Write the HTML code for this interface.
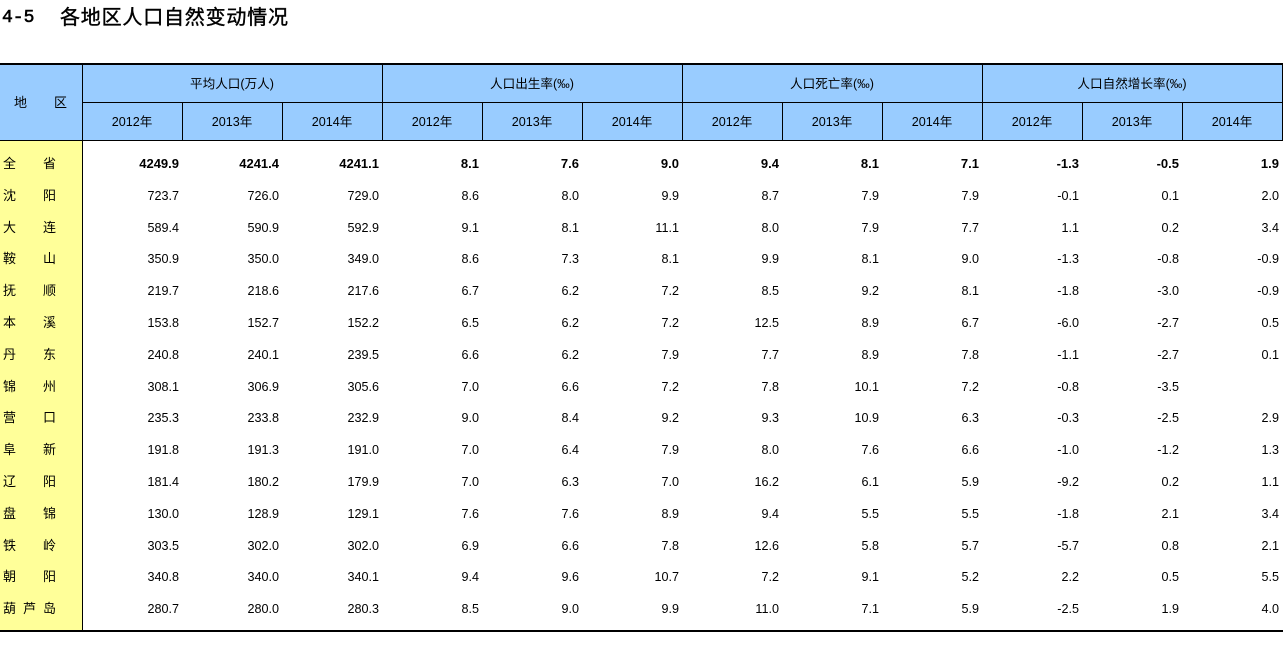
<!DOCTYPE html>
<html>
<head>
<meta charset="utf-8">
<style>
  html, body { margin:0; padding:0; }
  body { width:1283px; height:665px; background:#ffffff; position:relative; overflow:hidden;
         font-family:"Liberation Sans","Noto Sans CJK SC",sans-serif; color:#000; }
  .abs { position:absolute; }
  .title { position:absolute; left:0; top:0; height:36px; line-height:36px; width:600px; }
  .title .num { position:absolute; left:2px; font-family:"Liberation Mono",monospace; font-size:18px; -webkit-text-stroke:0.6px #000; }
  .title .cjk { position:absolute; left:60px; font-family:"Liberation Sans","Noto Sans CJK SC",sans-serif; font-size:20px; letter-spacing:0.8px; -webkit-text-stroke:0.4px #000; }
  .hline { position:absolute; background:#000; }
  .vline { position:absolute; background:#000; width:1px; }
  .h1 { position:absolute; top:74px; height:20px; line-height:20px; font-size:12.6px; text-align:center; width:300px; }
  .h2 { position:absolute; top:112px; left:82px; height:20px; line-height:20px; font-size:12.6px; display:flex; }
  .h2 span { width:100px; text-align:center; display:block; }
  .r { position:absolute; left:0; width:1283px; height:20px; line-height:20px; }
  .r .c { position:absolute; font-size:13px; }
  .r .v { position:absolute; left:82px; top:0; display:flex; font-size:12.6px; }
  .r .v span { width:100px; box-sizing:border-box; padding-right:3px; text-align:right; display:block; }
  .r.b .v { font-weight:bold; font-size:13px; }
</style>
</head>
<body>

<div class="title"><span class="num">4-5</span><span class="cjk">各地区人口自然变动情况</span></div>

<!-- backgrounds -->
<div class="abs" style="left:0;top:65px;width:1282px;height:75px;background:#99ccff;"></div>
<div class="abs" style="left:0;top:141px;width:82px;height:489px;background:#ffff99;"></div>

<!-- horizontal lines -->
<div class="hline" style="left:0;top:63px;width:1283px;height:2px;"></div>
<div class="hline" style="left:82px;top:102px;width:1201px;height:1px;"></div>
<div class="hline" style="left:0;top:140px;width:1283px;height:1px;"></div>
<div class="hline" style="left:0;top:630px;width:1283px;height:2px;"></div>

<!-- vertical lines -->
<div class="vline" style="left:82px;top:65px;height:565px;"></div>
<div class="vline" style="left:382px;top:65px;height:75px;"></div>
<div class="vline" style="left:682px;top:65px;height:75px;"></div>
<div class="vline" style="left:982px;top:65px;height:75px;"></div>
<div class="vline" style="left:1282px;top:65px;height:75px;"></div>
<div class="vline" style="left:182px;top:103px;height:37px;"></div>
<div class="vline" style="left:282px;top:103px;height:37px;"></div>
<div class="vline" style="left:482px;top:103px;height:37px;"></div>
<div class="vline" style="left:582px;top:103px;height:37px;"></div>
<div class="vline" style="left:782px;top:103px;height:37px;"></div>
<div class="vline" style="left:882px;top:103px;height:37px;"></div>
<div class="vline" style="left:1082px;top:103px;height:37px;"></div>
<div class="vline" style="left:1182px;top:103px;height:37px;"></div>

<!-- header text -->
<div class="abs" style="left:14px;top:93px;height:20px;line-height:20px;font-size:13px;">地</div>
<div class="abs" style="left:54px;top:93px;height:20px;line-height:20px;font-size:13px;">区</div>

<div class="h1" style="left:82px;">平均人口(万人)</div>
<div class="h1" style="left:382px;">人口出生率(‰)</div>
<div class="h1" style="left:682px;">人口死亡率(‰)</div>
<div class="h1" style="left:982px;">人口自然增长率(‰)</div>

<div class="h2">
  <span>2012年</span><span>2013年</span><span>2014年</span>
  <span>2012年</span><span>2013年</span><span>2014年</span>
  <span>2012年</span><span>2013年</span><span>2014年</span>
  <span>2012年</span><span>2013年</span><span>2014年</span>
</div>

<!-- data rows -->
<div class="r b" style="top:154px;"><span class="c" style="left:3px;">全</span><span class="c" style="left:43px;">省</span>
<div class="v"><span>4249.9</span><span>4241.4</span><span>4241.1</span><span>8.1</span><span>7.6</span><span>9.0</span><span>9.4</span><span>8.1</span><span>7.1</span><span>-1.3</span><span>-0.5</span><span>1.9</span></div></div>

<div class="r" style="top:186px;"><span class="c" style="left:3px;">沈</span><span class="c" style="left:43px;">阳</span>
<div class="v"><span>723.7</span><span>726.0</span><span>729.0</span><span>8.6</span><span>8.0</span><span>9.9</span><span>8.7</span><span>7.9</span><span>7.9</span><span>-0.1</span><span>0.1</span><span>2.0</span></div></div>

<div class="r" style="top:218px;"><span class="c" style="left:3px;">大</span><span class="c" style="left:43px;">连</span>
<div class="v"><span>589.4</span><span>590.9</span><span>592.9</span><span>9.1</span><span>8.1</span><span>11.1</span><span>8.0</span><span>7.9</span><span>7.7</span><span>1.1</span><span>0.2</span><span>3.4</span></div></div>

<div class="r" style="top:249px;"><span class="c" style="left:3px;">鞍</span><span class="c" style="left:43px;">山</span>
<div class="v"><span>350.9</span><span>350.0</span><span>349.0</span><span>8.6</span><span>7.3</span><span>8.1</span><span>9.9</span><span>8.1</span><span>9.0</span><span>-1.3</span><span>-0.8</span><span>-0.9</span></div></div>

<div class="r" style="top:281px;"><span class="c" style="left:3px;">抚</span><span class="c" style="left:43px;">顺</span>
<div class="v"><span>219.7</span><span>218.6</span><span>217.6</span><span>6.7</span><span>6.2</span><span>7.2</span><span>8.5</span><span>9.2</span><span>8.1</span><span>-1.8</span><span>-3.0</span><span>-0.9</span></div></div>

<div class="r" style="top:313px;"><span class="c" style="left:3px;">本</span><span class="c" style="left:43px;">溪</span>
<div class="v"><span>153.8</span><span>152.7</span><span>152.2</span><span>6.5</span><span>6.2</span><span>7.2</span><span>12.5</span><span>8.9</span><span>6.7</span><span>-6.0</span><span>-2.7</span><span>0.5</span></div></div>

<div class="r" style="top:345px;"><span class="c" style="left:3px;">丹</span><span class="c" style="left:43px;">东</span>
<div class="v"><span>240.8</span><span>240.1</span><span>239.5</span><span>6.6</span><span>6.2</span><span>7.9</span><span>7.7</span><span>8.9</span><span>7.8</span><span>-1.1</span><span>-2.7</span><span>0.1</span></div></div>

<div class="r" style="top:377px;"><span class="c" style="left:3px;">锦</span><span class="c" style="left:43px;">州</span>
<div class="v"><span>308.1</span><span>306.9</span><span>305.6</span><span>7.0</span><span>6.6</span><span>7.2</span><span>7.8</span><span>10.1</span><span>7.2</span><span>-0.8</span><span>-3.5</span><span></span></div></div>

<div class="r" style="top:408px;"><span class="c" style="left:3px;">营</span><span class="c" style="left:43px;">口</span>
<div class="v"><span>235.3</span><span>233.8</span><span>232.9</span><span>9.0</span><span>8.4</span><span>9.2</span><span>9.3</span><span>10.9</span><span>6.3</span><span>-0.3</span><span>-2.5</span><span>2.9</span></div></div>

<div class="r" style="top:440px;"><span class="c" style="left:3px;">阜</span><span class="c" style="left:43px;">新</span>
<div class="v"><span>191.8</span><span>191.3</span><span>191.0</span><span>7.0</span><span>6.4</span><span>7.9</span><span>8.0</span><span>7.6</span><span>6.6</span><span>-1.0</span><span>-1.2</span><span>1.3</span></div></div>

<div class="r" style="top:472px;"><span class="c" style="left:3px;">辽</span><span class="c" style="left:43px;">阳</span>
<div class="v"><span>181.4</span><span>180.2</span><span>179.9</span><span>7.0</span><span>6.3</span><span>7.0</span><span>16.2</span><span>6.1</span><span>5.9</span><span>-9.2</span><span>0.2</span><span>1.1</span></div></div>

<div class="r" style="top:504px;"><span class="c" style="left:3px;">盘</span><span class="c" style="left:43px;">锦</span>
<div class="v"><span>130.0</span><span>128.9</span><span>129.1</span><span>7.6</span><span>7.6</span><span>8.9</span><span>9.4</span><span>5.5</span><span>5.5</span><span>-1.8</span><span>2.1</span><span>3.4</span></div></div>

<div class="r" style="top:536px;"><span class="c" style="left:3px;">铁</span><span class="c" style="left:43px;">岭</span>
<div class="v"><span>303.5</span><span>302.0</span><span>302.0</span><span>6.9</span><span>6.6</span><span>7.8</span><span>12.6</span><span>5.8</span><span>5.7</span><span>-5.7</span><span>0.8</span><span>2.1</span></div></div>

<div class="r" style="top:567px;"><span class="c" style="left:3px;">朝</span><span class="c" style="left:43px;">阳</span>
<div class="v"><span>340.8</span><span>340.0</span><span>340.1</span><span>9.4</span><span>9.6</span><span>10.7</span><span>7.2</span><span>9.1</span><span>5.2</span><span>2.2</span><span>0.5</span><span>5.5</span></div></div>

<div class="r" style="top:599px;"><span class="c" style="left:3px;">葫</span><span class="c" style="left:23px;">芦</span><span class="c" style="left:43px;">岛</span>
<div class="v"><span>280.7</span><span>280.0</span><span>280.3</span><span>8.5</span><span>9.0</span><span>9.9</span><span>11.0</span><span>7.1</span><span>5.9</span><span>-2.5</span><span>1.9</span><span>4.0</span></div></div>

</body>
</html>
